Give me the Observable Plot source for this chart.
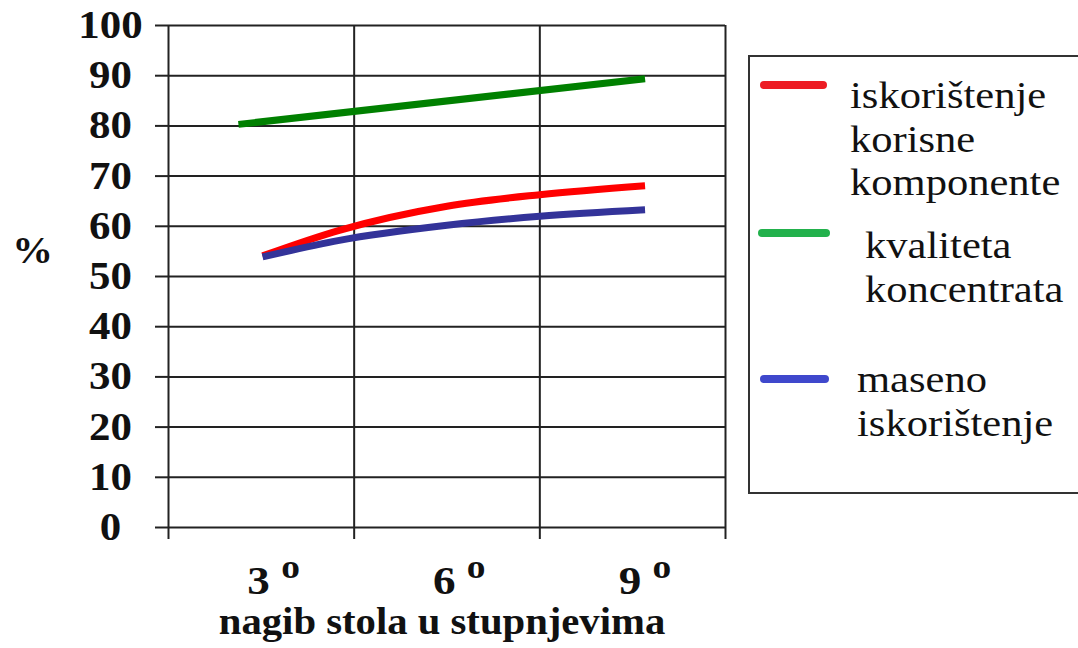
<!DOCTYPE html>
<html>
<head>
<meta charset="utf-8">
<script src="https://cdn.jsdelivr.net/npm/d3@7"></script>
<script src="https://cdn.jsdelivr.net/npm/@observablehq/plot@0.6"></script>
<style>
  html, body { margin: 0; padding: 0; background: #fff; overflow: hidden; }
  #wrap { position: relative; width: 1078px; height: 648px; }
  #chart { position: absolute; left: 0; top: 0; }
  #legend { position: absolute; left: 740px; top: 0; }
</style>
</head>
<body>
<div id="wrap">
  <div id="chart"></div>
  <div id="legend"></div>
</div>
<script>
// ---- data ----
const seriesNames = ["iskorištenje korisne komponente", "kvaliteta koncentrata", "maseno iskorištenje"];
const legendLines = [["iskorištenje", "korisne", "komponente"], ["kvaliteta", "koncentrata"], ["maseno", "iskorištenje"]];
const lineColors = ["#ff0000", "#008000", "#333399"];
const legendColors = ["#ed1c24", "#22b14c", "#3f48cc"];

// x in degrees (table tilt), y in %
const redX = [3.02, 4.26, 6.0, 7.5, 9.2];
const redY = [54.1, 59.2, 64.0, 66.3, 68.1];
const greenX = [2.63, 9.2];
const greenY = [80.3, 89.4];
const blueX = [3.02, 4.26, 6.0, 7.5, 9.2];
const blueY = [53.9, 57.2, 60.2, 62.0, 63.3];

const xTickLabels = [3, 6, 9];
const xGrid = [1.5, 4.5, 7.5, 10.5];
const yTicks = [0, 10, 20, 30, 40, 50, 60, 70, 80, 90, 100];
const xLabel = "nagib stola u stupnjevima";
const yLabel = "%";

const rows = [];
[[redX, redY], [greenX, greenY], [blueX, blueY]].forEach(([xs, ys], s) => {
  xs.forEach((x, i) => rows.push({series: seriesNames[s], x, y: ys[i]}));
});

const serif = "'Liberation Serif', 'Times New Roman', Times, serif";

const plot = Plot.plot({
  width: 740,
  height: 648,
  marginLeft: 168,
  marginRight: 15,
  marginTop: 25,
  marginBottom: 121,
  style: {fontFamily: serif, color: "#111", background: "transparent"},
  x: {domain: [1.5, 10.5]},
  y: {domain: [0, 100]},
  color: {domain: seriesNames, range: lineColors},
  marks: [
    Plot.gridY(yTicks, {stroke: "#222", strokeOpacity: 1, strokeWidth: 2}),
    Plot.gridX(xGrid, {stroke: "#222", strokeOpacity: 1, strokeWidth: 2}),
    Plot.axisY({ticks: yTicks, tickSize: 13, tickPadding: 45, textAnchor: "middle",
                fontSize: 39, fontWeight: "bold", strokeWidth: 2, stroke: "#222", label: null}),
    Plot.axisX({ticks: xGrid, tickSize: 12, tickFormat: () => "", strokeWidth: 2, stroke: "#222", label: null}),
    Plot.axisX({ticks: xTickLabels, tickSize: 0, tickPadding: 37, textAnchor: "start", dx: -14,
                fontSize: 41, fontWeight: "bold", label: null, ariaLabel: "x-label-axis"}),
    Plot.line(rows, {x: "x", y: "y", stroke: "series", z: "series", strokeWidth: 7,
                     curve: "monotone-x", strokeLinecap: "butt"}),
    Plot.text([yLabel], {frameAnchor: "left", dx: -136, dy: -25, fontSize: 37, fontWeight: "bold", textAnchor: "middle", fill: "#111"}),
    Plot.text([xLabel], {frameAnchor: "bottom", dy: 106, dx: -5, fontSize: 37, fontWeight: "bold", textAnchor: "middle", fill: "#111"})
  ]
});
document.getElementById("chart").appendChild(plot);

// superscript "o" after the degree values
plot.querySelectorAll('g[aria-label="x-label-axis tick label"] text, g[aria-label="x-axis tick label"] text').forEach(t => {
  const v = t.textContent;
  if (!xTickLabels.map(String).includes(v)) return;
  t.textContent = "";
  const a = document.createElementNS("http://www.w3.org/2000/svg", "tspan");
  a.textContent = v + " ";
  const b = document.createElementNS("http://www.w3.org/2000/svg", "tspan");
  b.textContent = "o";
  b.setAttribute("dy", "-16");
  b.setAttribute("font-size", "34");
  t.appendChild(a); t.appendChild(b);
});
// slight horizontal stretch of the serif lettering, as in the original
plot.querySelectorAll("text").forEach(t => {
  const tr = t.getAttribute("transform");
  if (tr && tr.startsWith("translate")) t.setAttribute("transform", tr + " scale(1.1,1)");
});

// ---- legend (SVG, coordinates relative to x = 740) ----
const lg = d3.select("#legend").append("svg").attr("width", 338).attr("height", 648)
  .style("font-family", serif);
lg.append("rect").attr("x", 9).attr("y", 56).attr("width", 360).attr("height", 437)
  .attr("fill", "none").attr("stroke", "#333").attr("stroke-width", 2);
const swatch = [{x1: 24, x2: 83, y: 85}, {x1: 22, x2: 86, y: 233}, {x1: 24, x2: 85, y: 379}];
const textPos = [{x: 110, y: 108}, {x: 125, y: 258}, {x: 117, y: 392}];
legendLines.forEach((lines, i) => {
  lg.append("line").attr("x1", swatch[i].x1).attr("x2", swatch[i].x2)
    .attr("y1", swatch[i].y).attr("y2", swatch[i].y)
    .attr("stroke", legendColors[i]).attr("stroke-width", 8).attr("stroke-linecap", "round");
  lines.forEach((ln, j) => {
    lg.append("text")
      .attr("transform", `translate(${textPos[i].x},${textPos[i].y + j * 43.5}) scale(1.12,1)`)
      .attr("font-size", 38).attr("fill", "#111").text(ln);
  });
});
</script>
</body>
</html>
